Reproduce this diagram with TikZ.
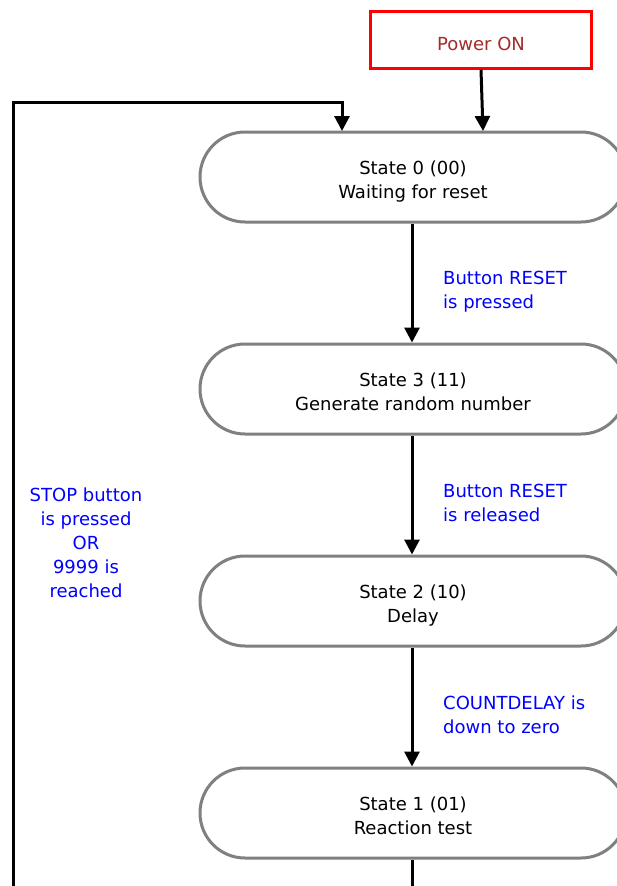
\documentclass[tikz,border=0pt]{standalone}
\usepackage{fontspec}
\setmainfont{DejaVu Sans}
\usetikzlibrary{arrows.meta}
\definecolor{stgray}{HTML}{808080}
\definecolor{pwrred}{HTML}{FF0000}
\definecolor{pwrtext}{HTML}{A52A2A}
\definecolor{lblblue}{HTML}{0000FF}
\newcommand\shiftdown[2]{\raisebox{-#1}[\height][\depth]{\begin{tabular}{@{}c@{}}#2\end{tabular}}}
\tikzset{
  statebox/.style={draw=stgray, line width=3pt, rectangle, rounded corners=45pt,
    minimum width=426pt, minimum height=90pt, align=center, fill=white,
    font=\fontsize{18}{24}\selectfont, inner sep=0pt},
  powerbox/.style={draw=pwrred, line width=2.5pt, minimum width=221pt, minimum height=57pt,
    text=pwrtext, font=\fontsize{18}{24}\selectfont, inner sep=0pt},
  lbl/.style={text=lblblue, font=\fontsize{18}{24}\selectfont, inner sep=0pt},
  arr/.style={draw=black, line width=3pt, -{Triangle[width=15pt,length=15pt]}},
  plainline/.style={draw=black, line width=3pt}
}
\begin{document}
\begin{tikzpicture}[x=1pt,y=-1pt]
\clip (0,0) rectangle (617,886);
\fill[white] (0,0) rectangle (617,886);
\node[powerbox] (p) at (481,40) {\shiftdown{6pt}{Power ON}};
\node[statebox] (s0) at (413,177) {\shiftdown{5pt}{State 0 (00)\\Waiting for reset}};
\node[statebox] (s3) at (413,389) {\shiftdown{5pt}{State 3 (11)\\Generate random number}};
\node[statebox] (s2) at (413,601) {\shiftdown{5pt}{State 2 (10)\\Delay}};
\node[statebox] (s1) at (413,813) {\shiftdown{5pt}{State 1 (01)\\Reaction test}};
\coordinate (pin) at (483,131);
\coordinate (loopin) at (342,131);
\coordinate (loopbot) at (412,900);
\coordinate (loopleft) at (13,102);
\draw[arr] (p.south) -- (pin);
\draw[arr] (s0.south -| 412,0) -- (s3.north -| 412,0);
\draw[arr] (s3.south -| 412,0) -- (s2.north -| 412,0);
\draw[arr] (s2.south -| 412,0) -- (s1.north -| 412,0);
\draw[plainline] (s1.south -| 412,0) -- (loopbot) -| (loopleft);
\draw[arr, line cap=rect] (loopleft) -| (loopin);
\node[lbl, anchor=west, align=left] (l1) at (443,292) {Button RESET\\is pressed};
\node[lbl, anchor=west, align=left] (l2) at (443,503) {Button RESET\\is released};
\node[lbl, anchor=west, align=left] (l3) at (443,715) {COUNTDELAY is\\down to zero};
\node[lbl, align=center] (l4) at (86,543) {STOP button\\is pressed\\OR\\9999 is\\reached};
\end{tikzpicture}
\end{document}
